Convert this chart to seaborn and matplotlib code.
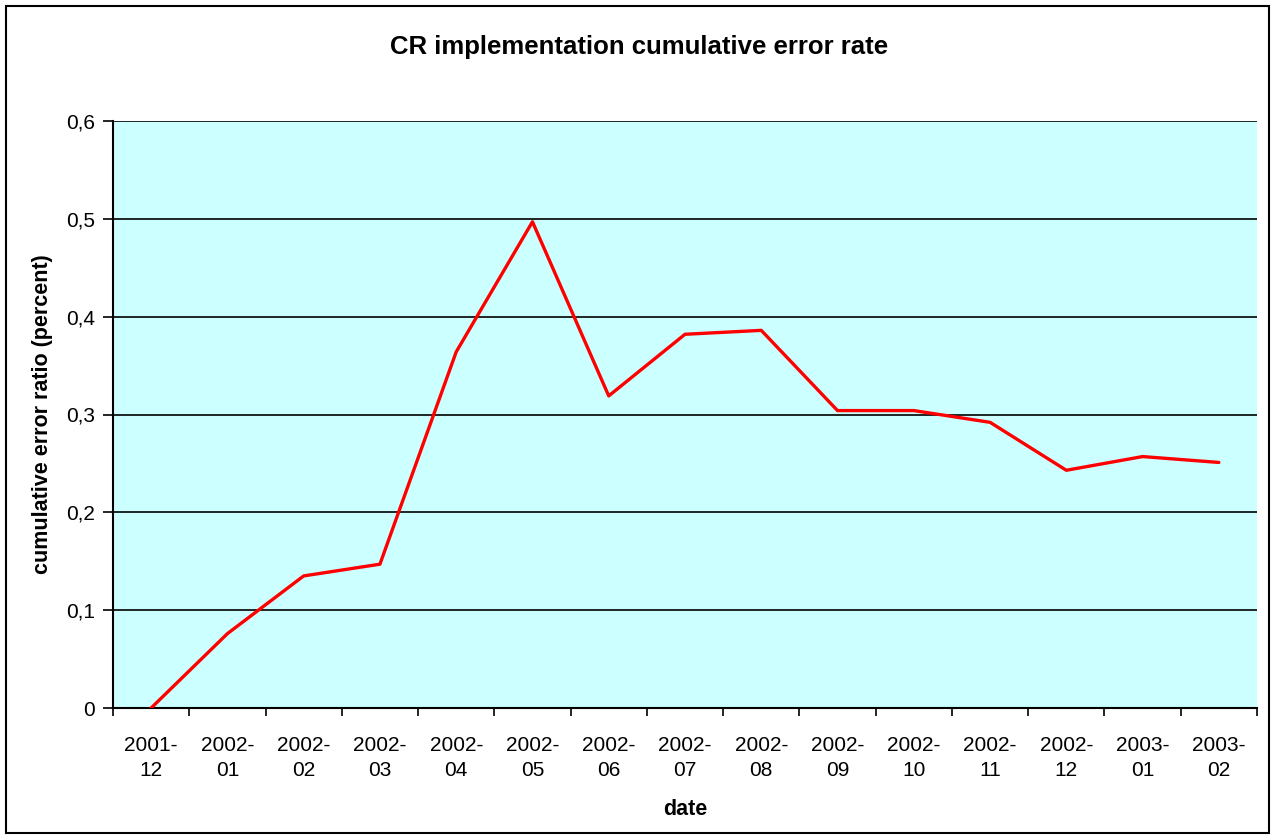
import matplotlib
matplotlib.use("Agg")
import matplotlib.pyplot as plt
import pandas as pd
import seaborn as sns
from matplotlib.patches import Rectangle
from matplotlib.ticker import FuncFormatter

# data
months = ["2001-\n12", "2002-\n01", "2002-\n02", "2002-\n03", "2002-\n04",
          "2002-\n05", "2002-\n06", "2002-\n07", "2002-\n08", "2002-\n09",
          "2002-\n10", "2002-\n11", "2002-\n12", "2003-\n01", "2003-\n02"]
error_ratio = [0.0, 0.076, 0.135, 0.147, 0.364, 0.497, 0.319, 0.382, 0.386,
               0.304, 0.304, 0.292, 0.243, 0.257, 0.251]
y_ticks = [0.0, 0.1, 0.2, 0.3, 0.4, 0.5, 0.6]

df = pd.DataFrame({"month": months, "ratio": error_ratio})
df["pos"] = range(len(df))

sns.set_style("white")
plt.rcParams["font.family"] = ["Liberation Sans", "DejaVu Sans"]
plt.rcParams.update({"text.color": "black", "axes.labelcolor": "black",
                     "xtick.color": "black", "ytick.color": "black"})

fig = plt.figure(figsize=(12.76, 8.39), dpi=100)
ax = fig.add_axes([113 / 1276, 1 - 708 / 839, (1257 - 113) / 1276, (708 - 121) / 839])
ax.set_facecolor("#CCFFFF")

sns.lineplot(data=df, x="pos", y="ratio", color="#FF0000", linewidth=2.4,
             sort=False, ax=ax, zorder=3)

ax.set_xlim(-0.5, len(months) - 0.5)
ax.set_ylim(0, 0.6)

# category axis: ticks between categories, labels at centres
ax.set_xticks([i - 0.5 for i in range(len(months) + 1)])
ax.set_xticklabels([])
ax.set_xticks(list(range(len(months))), minor=True)
ax.set_xticklabels(months, minor=True, fontsize=15, linespacing=1.4)
ax.tick_params(axis="x", which="major", direction="out", length=6, width=1.2,
               color="black", bottom=True)
ax.tick_params(axis="x", which="minor", length=0, pad=20)

ax.set_yticks(y_ticks)
ax.yaxis.set_major_formatter(FuncFormatter(lambda v, p: f"{v:.1f}".replace(".", ",") if v else "0"))
ax.tick_params(axis="y", direction="out", length=7, width=1.2, color="black",
               left=True, labelsize=15, pad=6)

ax.yaxis.grid(True, color="black", linewidth=1.2)
ax.set_axisbelow(True)
for side in ["top", "right"]:
    ax.spines[side].set_visible(False)
for side in ["left", "bottom"]:
    ax.spines[side].set_color("black")
    ax.spines[side].set_linewidth(1.5)

ax.set_xlabel("date", fontsize=15.5, fontweight="bold", labelpad=14)
ax.set_ylabel("cumulative error ratio (percent)", fontsize=15.5, fontweight="bold", labelpad=9)
fig.text(639 / 1276, 1 - 47 / 839, "CR implementation cumulative error rate",
         ha="center", va="center", fontsize=18.5, fontweight="bold")

# outer chart border
fig.patches.append(Rectangle((6 / 1276, 6 / 839), 1263 / 1276, 827 / 839,
                             transform=fig.transFigure, fill=False,
                             edgecolor="black", linewidth=1.5))

fig.savefig("out.png", dpi=100)
